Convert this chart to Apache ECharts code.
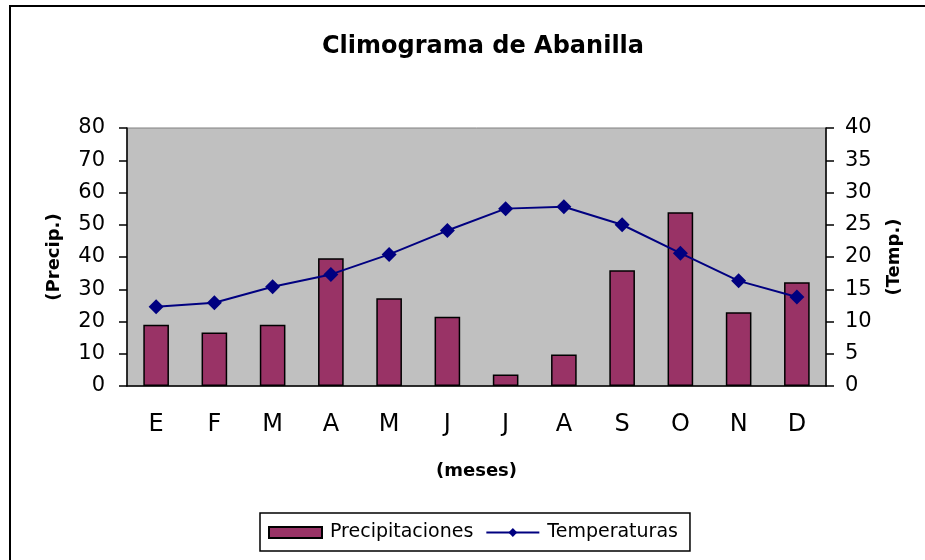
<!DOCTYPE html>
<html>
<head>
<meta charset="utf-8">
<script src="https://cdn.jsdelivr.net/npm/echarts@6/dist/echarts.min.js"></script>
<style>
  html, body { margin: 0; padding: 0; background: #fff; }
  #chart { width: 925px; height: 560px; }
</style>
</head>
<body>
<div id="chart"></div>
<script>
// meses
const months = ['E', 'F', 'M', 'A', 'M', 'J', 'J', 'A', 'S', 'O', 'N', 'D'];
// precipitaciones (mm)
const precip = [19, 16.6, 19, 39.6, 27.2, 21.5, 3.6, 9.8, 35.9, 53.9, 22.9, 32.2];
// temperaturas (ºC)
const temps = [12.3, 12.9, 15.4, 17.3, 20.4, 24.1, 27.5, 27.8, 25.0, 20.6, 16.3, 13.8];

const font = 'DejaVu Sans, sans-serif';

var myChart = echarts.init(document.getElementById('chart'));

const option = {
  animation: false,
  textStyle: { fontFamily: font, color: '#000' },
  graphic: [
    {
      type: 'rect',
      shape: { x: 10, y: 6, width: 1000, height: 700 },
      style: { fill: 'none', stroke: '#000', lineWidth: 2 },
      z: -1
    }
  ],
  title: {
    text: 'Climograma de Abanilla',
    left: 478,
    top: 30,
    textAlign: 'center',
    textStyle: { fontFamily: font, fontSize: 24, fontWeight: 'bold', color: '#000' }
  },
  legend: {
    left: 260,
    top: 513,
    padding: [10, 12, 9, 8],
    borderColor: '#000',
    borderWidth: 1.5,
    itemGap: 12,
    itemWidth: 53,
    itemHeight: 11,
    textStyle: { fontFamily: font, fontSize: 19, color: '#000', padding: [0, 0, 0, 3] },
    data: [
      { name: 'Precipitaciones', icon: 'rect' },
      { name: 'Temperaturas' }
    ]
  },
  grid: {
    left: 127,
    right: 99,
    top: 128,
    bottom: 174,
    show: true,
    backgroundColor: '#C0C0C0',
    borderColor: '#808080',
    borderWidth: 1
  },
  xAxis: {
    type: 'category',
    data: months,
    boundaryGap: true,
    name: '(meses)',
    nameLocation: 'middle',
    nameGap: 76,
    nameTextStyle: { fontFamily: font, fontSize: 18, fontWeight: 'bold', color: '#000' },
    axisLine: { lineStyle: { color: '#000', width: 1.5 } },
    axisTick: { length: 9, lineStyle: { color: '#000', width: 1.5 } },
    axisLabel: { margin: 27, fontSize: 24, color: '#000', fontFamily: font }
  },
  yAxis: [
    {
      type: 'value',
      min: 0,
      max: 80,
      interval: 10,
      name: '(Precip.)',
      nameLocation: 'middle',
      nameGap: 64,
      nameRotate: 90,
      nameTextStyle: { fontFamily: font, fontSize: 18, fontWeight: 'bold', color: '#000' },
      splitLine: { show: false },
      axisLine: { show: true, lineStyle: { color: '#000', width: 1.5 } },
      axisTick: { show: true, length: 8, lineStyle: { color: '#000', width: 1.5 } },
      axisLabel: { margin: 22, fontSize: 21, color: '#000', fontFamily: font }
    },
    {
      type: 'value',
      min: 0,
      max: 40,
      interval: 5,
      position: 'right',
      name: '(Temp.)',
      nameLocation: 'middle',
      nameGap: 59,
      nameRotate: 90,
      nameTextStyle: { fontFamily: font, fontSize: 18, fontWeight: 'bold', color: '#000' },
      splitLine: { show: false },
      axisLine: { show: true, lineStyle: { color: '#000', width: 1.5 } },
      axisTick: { show: true, length: 8, lineStyle: { color: '#000', width: 1.5 } },
      axisLabel: { margin: 19, fontSize: 21, color: '#000', fontFamily: font }
    }
  ],
  series: [
    {
      name: 'Precipitaciones',
      type: 'bar',
      yAxisIndex: 0,
      data: precip,
      barWidth: '44%',
      itemStyle: { color: '#993366', borderColor: '#000', borderWidth: 1.5 }
    },
    {
      name: 'Temperaturas',
      type: 'line',
      yAxisIndex: 1,
      data: temps,
      symbol: 'diamond',
      symbolSize: 15,
      lineStyle: { color: '#000080', width: 2 },
      itemStyle: { color: '#000080' }
    }
  ]
};

option && myChart.setOption(option);
</script>
</body>
</html>
